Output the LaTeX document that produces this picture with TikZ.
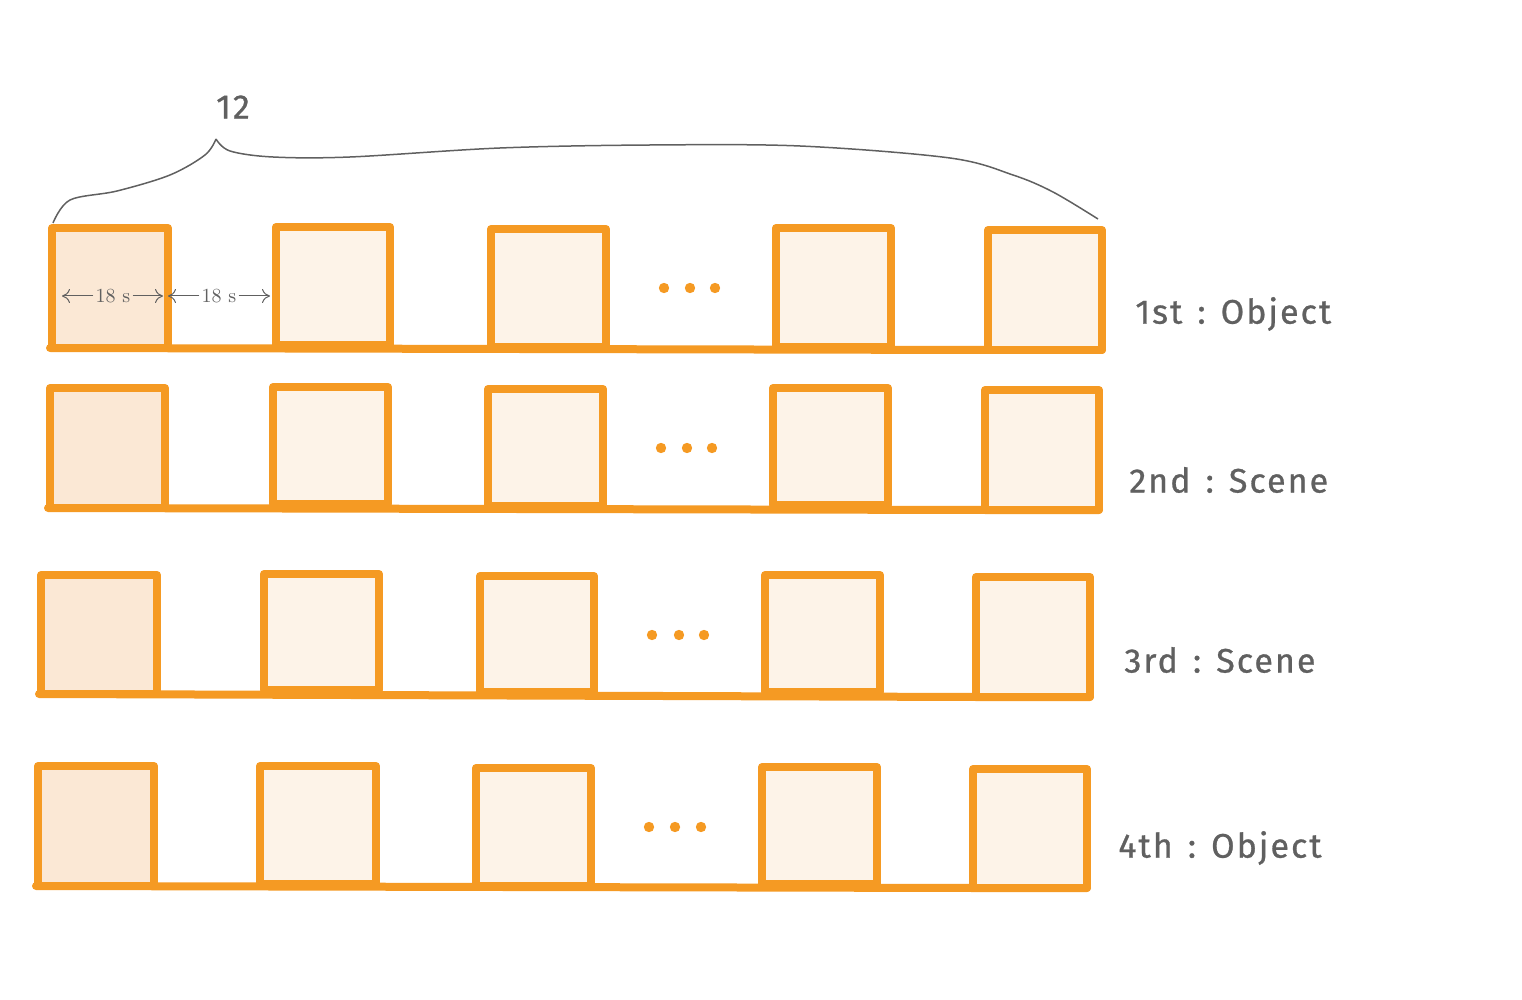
\documentclass[tikz,border=0pt]{standalone}
\usepackage{fontspec}
\newfontfamily\labfont[LetterSpace=6,FakeBold=0.8]{Fira Sans}
\usetikzlibrary{arrows.meta}
\definecolor{orng}{HTML}{F59A23}
\definecolor{fillA}{HTML}{FBE8D5}
\definecolor{fillB}{HTML}{FDF3E8}
\definecolor{txt}{HTML}{606060}
\tikzset{
  sq/.style={draw=orng, line width=4pt, line join=round, line cap=round},
  base/.style={draw=orng, line width=4pt, line cap=round},
  dotsty/.style={fill=orng, draw=none},
  rowlab/.style={text=txt, font=\labfont\fontsize{17}{19}\selectfont, anchor=west, inner sep=0pt},
  dimlab/.style={text=txt, font=\fontsize{10}{12}\selectfont, inner sep=1pt},
  dimarrow/.style={draw=txt, line width=0.5pt, -{To[length=4pt,width=7pt]}},
  bracesty/.style={draw=txt, line width=0.75pt}
}
\begin{document}
\begin{tikzpicture}[x=0.5pt,y=-0.5pt]
\useasboundingbox (0,0) rectangle (1522,1000);
% ---- brace
\draw[bracesty] plot[smooth, tension=0.55] coordinates {(53,223) (70,200) (117,191) (170,175) (205,155) (216,139)};
\draw[bracesty] plot[smooth, tension=0.55] coordinates {(216,139) (230,151) (273,157) (350,157) (500,148) (650,145) (800,146) (950,158) (1013,175) (1053,192) (1098,219)};
\node[text=txt, font=\labfont\fontsize{17}{19}\selectfont] (n12) at (233,107) {12};

% ---- row 1
\draw[base] (50,348) -- (988,350) -- (1102,350);
\draw[sq, fill=fillA] (52,228) -- (168,228) -- (168,348) -- (52,348) -- cycle;
\draw[sq, fill=fillB] (276,227) -- (390,227) -- (390,345) -- (276,345) -- cycle;
\draw[sq, fill=fillB] (491,229) -- (606,229) -- (606,347) -- (491,347) -- cycle;
\draw[sq, fill=fillB] (776,228) -- (891,228) -- (891,347) -- (776,347) -- cycle;
\draw[sq, fill=fillB] (988,230) -- (1102,230) -- (1102,350) -- (988,350) -- cycle;
\foreach \x in {664,690,715} \fill[dotsty] (\x,288) circle (2.6pt);
\node[rowlab] (r1) at (1135,314) {1st\;\,:\;\,Object};

% dimension labels
\node[dimlab] (d1) at (113,296) {18 s};
\coordinate (d1l) at (62,296);
\coordinate (d1r) at (163,296);
\draw[dimarrow] (d1.west) -- (d1l);
\draw[dimarrow] (d1.east) -- (d1r);
\node[dimlab] (d2) at (219,296) {18 s};
\coordinate (d2l) at (168,296);
\coordinate (d2r) at (270,296);
\draw[dimarrow] (d2.west) -- (d2l);
\draw[dimarrow] (d2.east) -- (d2r);

% ---- row 2
\draw[base] (48,508) -- (985,510) -- (1099,510);
\draw[sq, fill=fillA] (50,388) -- (165,388) -- (165,508) -- (50,508) -- cycle;
\draw[sq, fill=fillB] (273,387) -- (388,387) -- (388,504) -- (273,504) -- cycle;
\draw[sq, fill=fillB] (488,389) -- (603,389) -- (603,506) -- (488,506) -- cycle;
\draw[sq, fill=fillB] (773,388) -- (888,388) -- (888,505) -- (773,505) -- cycle;
\draw[sq, fill=fillB] (985,390) -- (1099,390) -- (1099,510) -- (985,510) -- cycle;
\foreach \x in {661,687,712} \fill[dotsty] (\x,448) circle (2.6pt);
\node[rowlab] (r2) at (1129,480) {2nd\;\,:\;\,Scene};

% ---- row 3
\draw[base] (39,694) -- (976,697) -- (1090,697);
\draw[sq, fill=fillA] (41,575) -- (157,575) -- (157,694) -- (41,694) -- cycle;
\draw[sq, fill=fillB] (264,574) -- (379,574) -- (379,690) -- (264,690) -- cycle;
\draw[sq, fill=fillB] (480,576) -- (594,576) -- (594,692) -- (480,692) -- cycle;
\draw[sq, fill=fillB] (765,575) -- (880,575) -- (880,692) -- (765,692) -- cycle;
\draw[sq, fill=fillB] (976,577) -- (1090,577) -- (1090,697) -- (976,697) -- cycle;
\foreach \x in {652,679,704} \fill[dotsty] (\x,635) circle (2.6pt);
\node[rowlab] (r3) at (1124,660) {3rd\;\,:\;\,Scene};

% ---- row 4
\draw[base] (36,886) -- (973,888) -- (1087,888);
\draw[sq, fill=fillA] (38,766) -- (154,766) -- (154,886) -- (38,886) -- cycle;
\draw[sq, fill=fillB] (260,766) -- (376,766) -- (376,884) -- (260,884) -- cycle;
\draw[sq, fill=fillB] (476,768) -- (591,768) -- (591,886) -- (476,886) -- cycle;
\draw[sq, fill=fillB] (762,767) -- (877,767) -- (877,884) -- (762,884) -- cycle;
\draw[sq, fill=fillB] (973,769) -- (1087,769) -- (1087,888) -- (973,888) -- cycle;
\foreach \x in {649,675,701} \fill[dotsty] (\x,827) circle (2.6pt);
\node[rowlab] (r4) at (1118,848) {4th\;\,:\;\,Object};
\end{tikzpicture}
\end{document}
